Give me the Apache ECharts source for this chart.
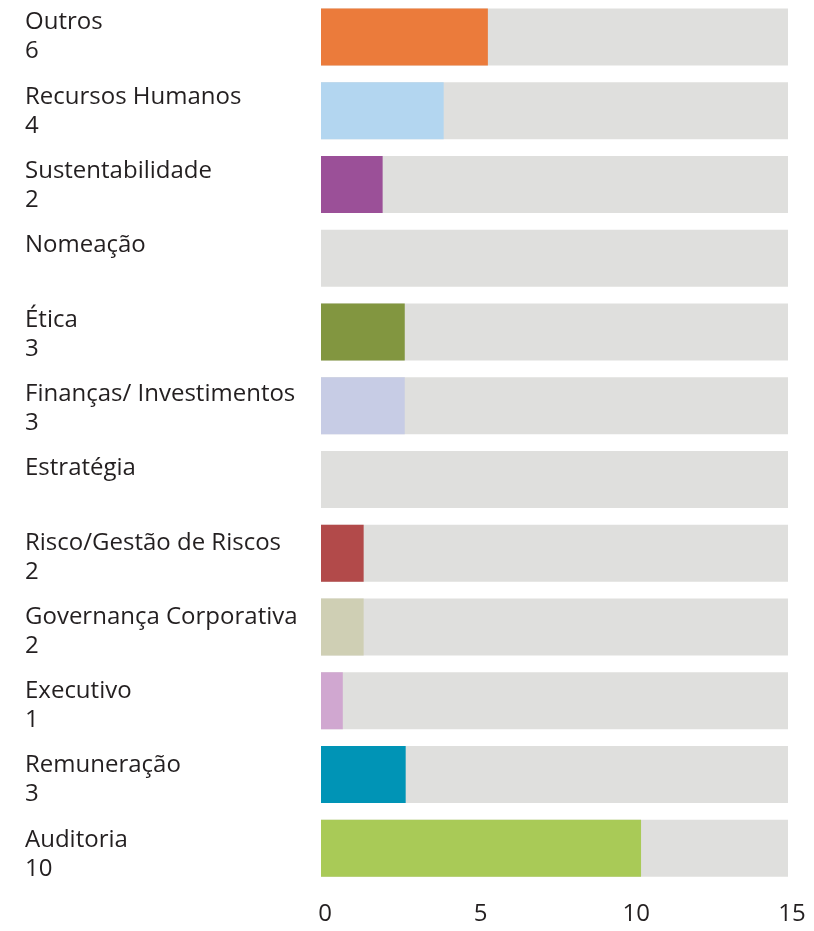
<!DOCTYPE html>
<html>
<head>
<meta charset="utf-8">
<script src="https://cdn.jsdelivr.net/npm/echarts@6/dist/echarts.min.js"></script>
<style>
    html, body { margin: 0; padding: 0; background: #fff; }
    #chart { width: 814px; height: 931px; }
</style>
</head>
<body>
<div id="chart"></div>
<script>
    // categories, top to bottom
    const categories = [
        'Outros', 'Recursos Humanos', 'Sustentabilidade', 'Nomeação', 'Ética',
        'Finanças/ Investimentos', 'Estratégia', 'Risco/Gestão de Riscos',
        'Governança Corporativa', 'Executivo', 'Remuneração', 'Auditoria'
    ];
    // printed counts under each name ('' = none printed)
    const counts = ['6', '4', '2', '', '3', '3', '', '2', '2', '1', '3', '10'];
    // bar lengths as drawn in the picture
    const barLengths = [5.36, 3.94, 1.98, 0, 2.69, 2.69, 0, 1.37, 1.37, 0.70, 2.72, 10.28];
    const barColors = [
        '#eb7b3b', '#b3d6f0', '#9b5098', '#829640', '#829640',
        '#c7cce5', '#c7cce5', '#b24a4a', '#cfcfb4', '#d0a7d0', '#0094b6', '#a9ca57'
    ];
    const xTicks = [0, 5, 10, 15];

    const textColor = '#231f20';
    const fontFamily = '"Open Sans", sans-serif';

    const chart = echarts.init(document.getElementById('chart'));

    chart.setOption({
        animation: false,
        grid: [{
            // bars
            left: 321,
            right: 26,
            top: 0,
            bottom: 46
        }, {
            // name / count labels, spaced a little wider than the bars
            left: 321,
            right: 26,
            top: -4.5,
            bottom: 39.5
        }],
        xAxis: [{
            type: 'value',
            gridIndex: 0,
            min: xTicks[0],
            max: xTicks[xTicks.length - 1],
            interval: 5,
            splitLine: {show: false},
            axisLine: {show: false},
            axisTick: {show: false},
            axisLabel: {
                color: textColor,
                fontSize: 24,
                fontFamily: fontFamily,
                margin: 17,
                padding: [0, 0, 0, 8]
            }
        }, {
            type: 'value',
            gridIndex: 1,
            min: 0,
            max: 1,
            show: false
        }],
        yAxis: [{
            type: 'category',
            gridIndex: 0,
            data: categories,
            inverse: true,
            axisLine: {show: false},
            axisTick: {show: false},
            axisLabel: {show: false}
        }, {
            type: 'category',
            gridIndex: 1,
            data: categories,
            inverse: true,
            axisLine: {show: false},
            axisTick: {show: false},
            axisLabel: {
                align: 'left',
                margin: 296,
                color: textColor,
                fontSize: 24,
                fontFamily: fontFamily,
                lineHeight: 29,
                formatter: function (value, idx) {
                    return value + '\n' + (counts[idx] || ' ');
                }
            }
        }],
        series: [{
            type: 'bar',
            xAxisIndex: 0,
            yAxisIndex: 0,
            barWidth: 57,
            showBackground: true,
            backgroundStyle: {color: '#dfdfdd'},
            data: barLengths.map((v, i) => ({
                value: v,
                itemStyle: {color: barColors[i]}
            }))
        }]
    });
</script>
</body>
</html>
